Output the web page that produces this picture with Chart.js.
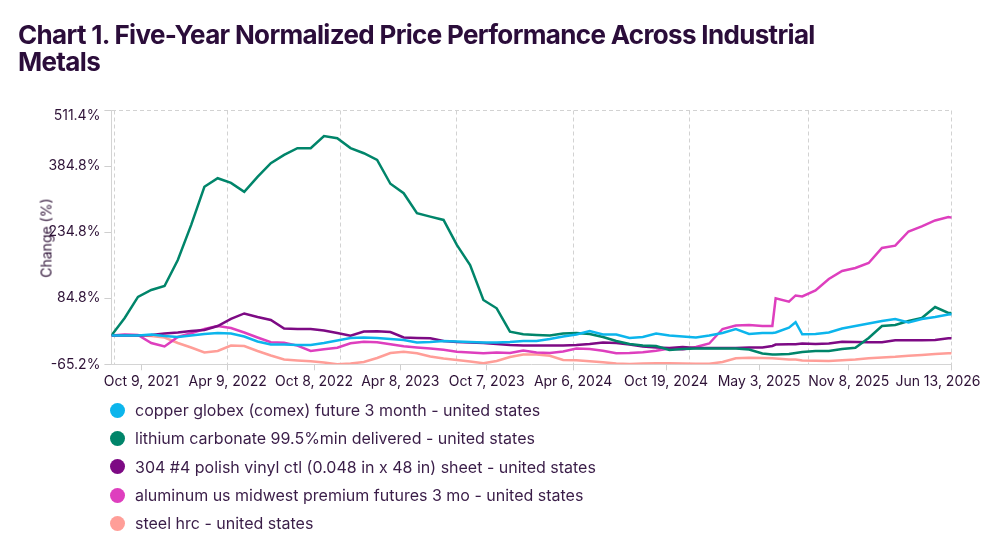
<!DOCTYPE html>
<html><head><meta charset="utf-8">
<script src="https://cdn.jsdelivr.net/npm/chart.js@4.4.1/dist/chart.umd.min.js"></script>
<style>
html,body{margin:0;padding:0;background:#fff;}
#wrap{position:relative;width:1000px;height:546px;overflow:hidden;font-family:Inter,'Noto Sans',sans-serif;color:#2e1237;}
canvas{position:absolute;left:0;top:0;}
#title{position:absolute;left:18px;top:21px;font-size:26px;font-weight:700;line-height:27px;letter-spacing:-0.67px;color:#2b0d3a;white-space:nowrap;}
#ytitle{position:absolute;left:46px;top:238px;transform:translate(-50%,-50%) rotate(-90deg);font-size:14px;white-space:nowrap;color:#2e1237;}
#legend{position:absolute;left:110px;top:396px;}
.item{display:flex;align-items:center;height:28.3px;font-size:16px;color:#3a1d48;white-space:nowrap;}
.dot{width:15px;height:15px;border-radius:50%;margin-right:10px;flex:none;}
</style></head>
<body><div id="wrap">
<canvas id="c" width="1000" height="546"></canvas>
<div id="title">Chart 1. Five-Year Normalized Price Performance Across Industrial<br>Metals</div>
<div id="ytitle">Change (%)</div>
<div id="legend"></div>
</div>
<script>
// ---- data (percent change, normalized to first observation) ----
const dates = [
 '2021-08-07','2021-09-04','2021-10-02','2021-10-30','2021-11-27','2021-12-25',
 '2022-01-22','2022-02-19','2022-03-19','2022-04-16','2022-05-14','2022-06-11',
 '2022-07-09','2022-08-06','2022-09-03','2022-10-01','2022-10-29','2022-11-26',
 '2022-12-24','2023-01-21','2023-02-18','2023-03-18','2023-04-15','2023-05-13',
 '2023-06-10','2023-07-08','2023-08-05','2023-09-02','2023-09-30','2023-10-28',
 '2023-11-25','2023-12-23','2024-01-20','2024-02-17','2024-03-16','2024-04-13',
 '2024-05-11','2024-06-08','2024-07-06','2024-08-03','2024-08-31','2024-09-28',
 '2024-10-26','2024-11-23','2024-12-21','2025-01-18','2025-02-15','2025-03-15',
 '2025-04-12','2025-05-10','2025-05-31','2025-06-07','2025-07-05','2025-07-19',
 '2025-08-02','2025-08-30','2025-09-27','2025-10-25','2025-11-22','2025-12-20',
 '2026-01-17','2026-02-14','2026-03-14','2026-04-11','2026-05-09','2026-06-06',
 '2026-06-13'
];
const copper = [
 0,0.3,0.3,2.5,-0.9,-3.2,
 0.3,3.7,6,4.8,-2,-13.4,
 -20.2,-20.2,-21.3,-21.3,-16.8,-11.1,
 -5.4,-4.3,-5.4,-7.7,-10,-15.7,
 -14.5,-12.2,-13.4,-14.5,-15.7,-15.7,
 -14.5,-12.2,-12.2,-7.7,-2,2.5,
 10.5,2.5,2.5,-5.4,-3.2,4.8,
 0.3,-2,-4.3,0.3,6,15,
 3.7,6,6,7.1,18,30.3,
 3,3.7,7.1,16.2,21.8,27.5,
 33.2,37.8,29.8,37.8,42.3,48,
 48.4
];
const lithium = [
 0,40,87.8,103.7,112.8,171.8,
 251,338,357.5,347,326.5,360.5,
 391.6,410.5,425.7,425.7,453.5,448.4,
 426,414.3,399.1,345,323.4,278,
 270.3,262.8,206,160.5,81,62,
 8.9,3,1.4,0.3,4.8,6,
 3.7,-3.2,-12.2,-19.1,-22.5,-23.6,
 -32.7,-30.4,-29.3,-29.3,-29.3,-29.3,
 -31.6,-40.7,-42.9,-42.9,-41.8,-39.5,
 -37.2,-35,-35,-30.4,-27.5,-5.4,
 21.9,24.1,33.2,40,65,51.4,
 51.4
];
const stainless304 = [
 0,0.3,0.5,1.4,5,7.1,
 10.5,12.8,21.8,37.8,50.3,42.3,
 35.5,16.2,15,15,11.7,6,
 -0.2,9.4,9.8,8.2,-4.3,-5.4,
 -6.1,-12.2,-14.5,-15.7,-16.8,-19.1,
 -21.3,-22.5,-22.7,-22.7,-22.7,-21.3,
 -19.1,-15.7,-16.8,-20.2,-24.7,-27,
 -28.2,-25.9,-28.2,-28.2,-28.2,-28.2,
 -27,-27,-23.6,-20.2,-19.7,-19.7,
 -17.9,-19.1,-17.9,-13.8,-14.5,-15.2,
 -15.2,-10.7,-10.7,-10.4,-10,-6.1,
 -6.1
];
const aluminum = [
 0,2.5,1.4,-16.8,-24.7,-3.2,
 5.2,15,21.8,17.3,7.1,-4.3,
 -15.2,-16.1,-22.7,-34.8,-31.1,-27.5,
 -17.5,-13.8,-15.2,-19.7,-24.3,-27,
 -29.3,-32,-36.6,-38.4,-40.2,-38.4,
 -39.5,-33.9,-38.4,-39.5,-36.1,-29.3,
 -30.4,-34.3,-40.2,-39.5,-37.9,-34.3,
 -29.3,-31.5,-25.9,-17.9,15,22.9,
 24.1,21.8,22,84.8,77.1,91.2,
 88.9,102.5,128.7,146.8,153.7,165,
 199.1,204.3,236.6,248,261.6,269.6,
 268
];
const steel = [
 0,1.4,0.7,-0.9,-4.3,-16.8,
 -27,-38.4,-35,-22.5,-23.6,-35,
 -45.2,-54.3,-56.6,-58.4,-61.1,-65.2,
 -63.4,-60,-50.9,-39.5,-36.6,-40.2,
 -47.5,-52,-55.4,-58.8,-62.9,-57.7,
 -48.6,-42.9,-42.9,-45.7,-55.4,-56.1,
 -58.4,-60.7,-63.4,-64.5,-63.4,-62.9,
 -62.9,-63.4,-64.1,-64.1,-60,-51.6,
 -50.4,-50.9,-51.6,-52,-54.3,-54.3,
 -56.6,-57,-57.7,-56.1,-54.3,-51.6,
 -49.7,-48.2,-45.9,-44.1,-41.8,-40.2,
 -40.2
];
const seriesNames = [
 'copper globex (comex) future 3 month - united states',
 'lithium carbonate 99.5%min delivered - united states',
 '304 #4 polish vinyl ctl (0.048 in x 48 in) sheet - united states',
 'aluminum us midwest premium futures 3 mo - united states',
 'steel hrc - united states'
];
const seriesColors = ['#0cb5ec','#00856a','#7d0a84','#de3fbe','#ff9e98'];
const xTickDates = ['2021-10-09','2022-04-09','2022-10-08','2023-04-08','2023-10-07','2024-04-06','2024-10-19','2025-05-03','2025-11-08','2026-06-13'];
const xTickLabels = ['Oct 9, 2021','Apr 9, 2022','Oct 8, 2022','Apr 8, 2023','Oct 7, 2023','Apr 6, 2024','Oct 19, 2024','May 3, 2025','Nov 8, 2025','Jun 13, 2026'];
const gridDates = ['2021-08-14','2022-04-09','2022-12-03','2023-08-05','2024-04-06','2024-12-07','2025-08-16','2026-06-13'];
const yTicks = [-65.2, 84.8, 234.8, 384.8, 511.4];

// ---- helpers ----
const t0 = Date.UTC(2021, 7, 7);
function dayOf(s) { return (Date.UTC(+s.slice(0,4), +s.slice(5,7)-1, +s.slice(8,10)) - t0) / 86400000; }
const xMin = dayOf(dates[0]);
const xMax = dayOf(dates[dates.length-1]);
const yMin = yTicks[0], yMax = yTicks[yTicks.length-1];
const textColor = '#2e1237';
const allSeries = [copper, lithium, stainless304, aluminum, steel];

const legend = document.getElementById('legend');
seriesNames.forEach((n, i) => {
  const row = document.createElement('div'); row.className = 'item';
  const d = document.createElement('span'); d.className = 'dot'; d.style.background = seriesColors[i];
  const t = document.createElement('span'); t.textContent = n;
  row.appendChild(d); row.appendChild(t); legend.appendChild(row);
});

new Chart(document.getElementById('c'), {
  type: 'line',
  data: {
    datasets: allSeries.map((s, i) => ({
      label: seriesNames[i],
      data: dates.map((d, j) => ({x: dayOf(d), y: s[j]})),
      borderColor: seriesColors[i],
      backgroundColor: seriesColors[i],
      borderWidth: 2.5,
      pointRadius: 0,
      tension: 0,
      fill: false,
      xAxisID: 'x', yAxisID: 'y'
    }))
  },
  options: {
    responsive: false, animation: false, devicePixelRatio: 1,
    layout: {padding: {top: 110.5, left: 0, right: 48.3, bottom: 151.7}},
    plugins: {legend: {display: false}, title: {display: false}, tooltip: {enabled: false}},
    scales: {
      x: {
        type: 'linear', position: 'bottom', min: xMin, max: xMax,
        afterBuildTicks: s => { s.ticks = xTickDates.map(d => ({value: dayOf(d)})); },
        afterFit: s => { s.height = 30; s.paddingLeft = 0; s.paddingRight = 0; },
        ticks: {
          autoSkip: false, maxRotation: 0, minRotation: 0, padding: 3, color: textColor,
          font: {family: 'Inter', size: 14},
          callback: (v, i) => i === xTickLabels.length - 1 ? xTickLabels[i] + '       ' : xTickLabels[i]
        },
        grid: {drawOnChartArea: false, drawTicks: true, tickLength: 6, tickColor: '#cfcfcf', color: '#cfcfcf'},
        border: {display: true, color: '#d4d4d4', width: 1}
      },
      xg: {
        type: 'linear', position: 'bottom', min: xMin, max: xMax,
        afterBuildTicks: s => { s.ticks = gridDates.map(d => ({value: dayOf(d)})); },
        afterFit: s => { s.height = 0; s.paddingLeft = 0; s.paddingRight = 0; },
        ticks: {display: false},
        grid: {drawTicks: false, color: '#d2d2d2', lineWidth: 1},
        border: {display: false, dash: [4, 3]}
      },
      y: {
        type: 'linear', min: yMin, max: yMax,
        afterBuildTicks: s => { s.ticks = yTicks.map(v => ({value: v})); },
        afterFit: s => { s.width = 111.4; },
        ticks: {
          padding: 4, color: textColor,
          font: ctx => ({family: 'Inter', size: 14, lineHeight: (ctx.tick && ctx.tick.value === yMax) ? '10px' : 1.2}),
          callback: v => v === yMax ? ['', v.toFixed(1) + '%'] : v.toFixed(1) + '%'
        },
        grid: {
          color: ctx => (ctx.tick && ctx.tick.value === yMax) ? '#d2d2d2' : 'rgba(0,0,0,0)',
          drawTicks: true, tickLength: 7, tickColor: '#cfcfcf', tickBorderDash: []
        },
        border: {display: true, color: '#d4d4d4', width: 1, dash: [4, 3]}
      }
    }
  }
});
</script>
</body></html>
